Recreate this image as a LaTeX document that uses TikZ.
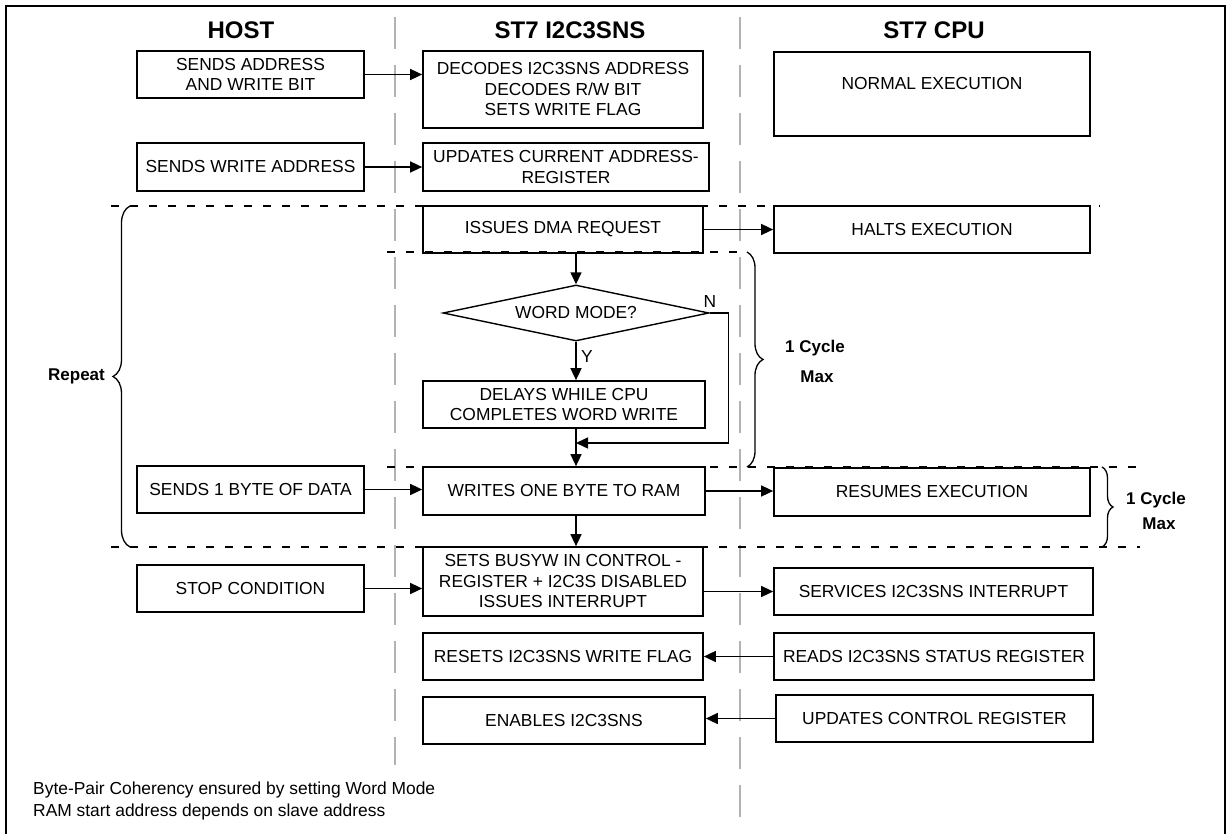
\documentclass[tikz,border=0pt]{standalone}
\usepackage{fontspec}
\setmainfont{Liberation Sans}
\usetikzlibrary{arrows.meta,shapes.geometric,decorations.pathreplacing}
\newcommand{\boxfont}{\fontsize{17.4}{20.5}\selectfont}
\newcommand{\headfont}{\fontsize{24}{28}\selectfont\bfseries}
\newcommand{\tagfont}{\fontsize{17}{20}\selectfont\bfseries}
\tikzset{
  stepbox/.style={draw,line width=1.7pt,inner sep=0pt,align=center,font=\boxfont},
  decision/.style={diamond,aspect=4.75,draw,line width=1.4pt,inner sep=0pt,font=\boxfont},
  flow/.style={-{Triangle[length=12pt,width=11pt]},line width=1.5pt},
  phase/.style={dash pattern=on 8pt off 11pt,line width=1.5pt},
  lane/.style={draw=black!30,dash pattern=on 32pt off 16pt,line width=2pt},
  cyclebrace/.style={decorate,decoration={brace,amplitude=#1},line width=1.3pt},
  tag/.style={font=\tagfont,anchor=base},
  yesno/.style={font=\boxfont,anchor=base,inner sep=0pt},
}

\begin{document}
\begin{tikzpicture}[x=1pt,y=-1pt]
  \useasboundingbox (0,0) rectangle (1227,834);
  % frame and swim lanes
  \draw[line width=2pt] (6,840) -- (6,6) -- (1225,6) -- (1225,840);
  \draw[lane] (395,17) -- (395,765);
  \draw[lane] (740,17) -- (740,823);
  \node[font=\headfont,anchor=base] (hdHost) at (241,38.5) {HOST};
  \node[font=\headfont,anchor=base] (hdI2c) at (570,38.5) {ST7 I2C3SNS};
  \node[font=\headfont,anchor=base] (hdCpu) at (934,38.5) {ST7 CPU};
  % host column
  \node[stepbox,minimum width=227pt,minimum height=47pt] (sendAddr) at (250.5,74.5) {SENDS ADDRESS\\AND WRITE BIT};
  \node[stepbox,minimum width=227pt,minimum height=48pt] (sendWrAddr) at (250.5,167) {SENDS WRITE ADDRESS};
  \node[stepbox,minimum width=227pt,minimum height=47pt] (sendByte) at (250.5,489.5) {SENDS 1 BYTE OF DATA};
  \node[stepbox,minimum width=227pt,minimum height=47pt] (stopCond) at (250.5,588.5) {STOP CONDITION};
  % I2C3SNS column
  \node[stepbox,minimum width=280pt,minimum height=77pt] (decode) at (563,89.5)
    {DECODES I2C3SNS ADDRESS\\DECODES R/W BIT\\SETS WRITE FLAG};
  \node[stepbox,minimum width=286pt,minimum height=48pt] (curAddr) at (566,167)
    {UPDATES CURRENT ADDRESS-\\REGISTER};
  \node[stepbox,minimum width=280pt,minimum height=47pt] (dmaReq) at (563,229.5) {ISSUES DMA REQUEST};
  \node[decision,minimum width=266pt,minimum height=56pt] (wordMode) at (576,313) {WORD MODE?};
  \node[stepbox,minimum width=282pt,minimum height=47pt] (delayCpu) at (564,404.5)
    {DELAYS WHILE CPU\\COMPLETES WORD WRITE};
  \node[stepbox,minimum width=282pt,minimum height=48pt] (writeByte) at (564,491) {WRITES ONE BYTE TO RAM};
  \node[stepbox,minimum width=280pt,minimum height=69pt] (setBusy) at (563,581.5)
    {SETS BUSYW IN CONTROL -\\REGISTER + I2C3S DISABLED\\ISSUES INTERRUPT};
  \node[stepbox,minimum width=280pt,minimum height=47pt] (resetFlag) at (563,656.5) {RESETS I2C3SNS WRITE FLAG};
  \node[stepbox,minimum width=282pt,minimum height=47pt] (enable) at (564,720.5) {ENABLES I2C3SNS};
  % CPU column
  \node[stepbox,minimum width=316pt,minimum height=84pt,text depth=22pt] (normal) at (932,94) {NORMAL EXECUTION};
  \node[stepbox,minimum width=316pt,minimum height=47pt] (halt) at (932,229.5) {HALTS EXECUTION};
  \node[stepbox,minimum width=316pt,minimum height=48pt] (resume) at (932,492) {RESUMES EXECUTION};
  \node[stepbox,minimum width=319pt,minimum height=47pt] (service) at (933.5,591.5) {SERVICES I2C3SNS INTERRUPT};
  \node[stepbox,minimum width=320pt,minimum height=47pt] (readStat) at (934,656.5) {READS I2C3SNS STATUS REGISTER};
  \node[stepbox,minimum width=317pt,minimum height=47pt] (updCtrl) at (934.5,718.5) {UPDATES CONTROL REGISTER};
  % phase separators
  \draw[phase] (111,206) -- (1100,206);
  \draw[phase] (387,252) -- (747,252);
  \draw[phase] (387,467) -- (1140,467);
  \draw[phase] (111,547) -- (1140,547);
  % flow
  \coordinate (merge) at (576,443);
  \draw[flow] (sendAddr.east) -- (sendAddr.east -| decode.west);
  \draw[flow] (sendWrAddr.east) -- (sendWrAddr.east -| curAddr.west);
  \draw[flow] (dmaReq.east) -- (dmaReq.east -| halt.west);
  \draw[flow] (dmaReq.south -| wordMode.north) -- (wordMode.north);
  \draw[flow] (wordMode.south) -- (wordMode.south |- delayCpu.north);
  \draw[flow] (wordMode.east) -- ++(19,0) |- (merge);
  \draw[flow] (delayCpu.south -| merge) -- (writeByte.north -| merge);
  \draw[flow] (sendByte.east) -- (sendByte.east -| writeByte.west);
  \draw[flow] (writeByte.east) -- (writeByte.east -| resume.west);
  \draw[flow] (writeByte.south -| merge) -- (setBusy.north -| merge);
  \draw[flow] (stopCond.east) -- (stopCond.east -| setBusy.west);
  \draw[flow] (setBusy.east |- service.west) -- (service.west);
  \draw[flow] (readStat.west) -- (readStat.west -| resetFlag.east);
  \draw[flow] (updCtrl.west) -- (updCtrl.west -| enable.east);
  \node[yesno] (noTag) at (710,308) {N};
  \node[yesno] (yesTag) at (587,363) {Y};
  % braces
  \draw[cyclebrace=17pt] (130,547) -- (130,206);
  \draw[cyclebrace=16pt] (747,252) -- (747,467);
  \draw[cyclebrace=11pt] (1102,467) -- (1102,547);
  \node[tag] (repeatTag) at (76.5,381) {Repeat};
  \node[tag] (cycA) at (815,353) {1 Cycle};
  \node[tag] (maxA) at (817,383) {Max};
  \node[tag] (cycB) at (1156,504) {1 Cycle};
  \node[tag] (maxB) at (1159,529) {Max};
  % notes
  \node[font=\boxfont,anchor=base west,inner sep=0pt] (noteA) at (33,794)
    {Byte-Pair Coherency ensured by setting Word Mode};
  \node[font=\boxfont,anchor=base west,inner sep=0pt] (noteB) at (33,816)
    {RAM start address depends on slave address};
\end{tikzpicture}
\end{document}
